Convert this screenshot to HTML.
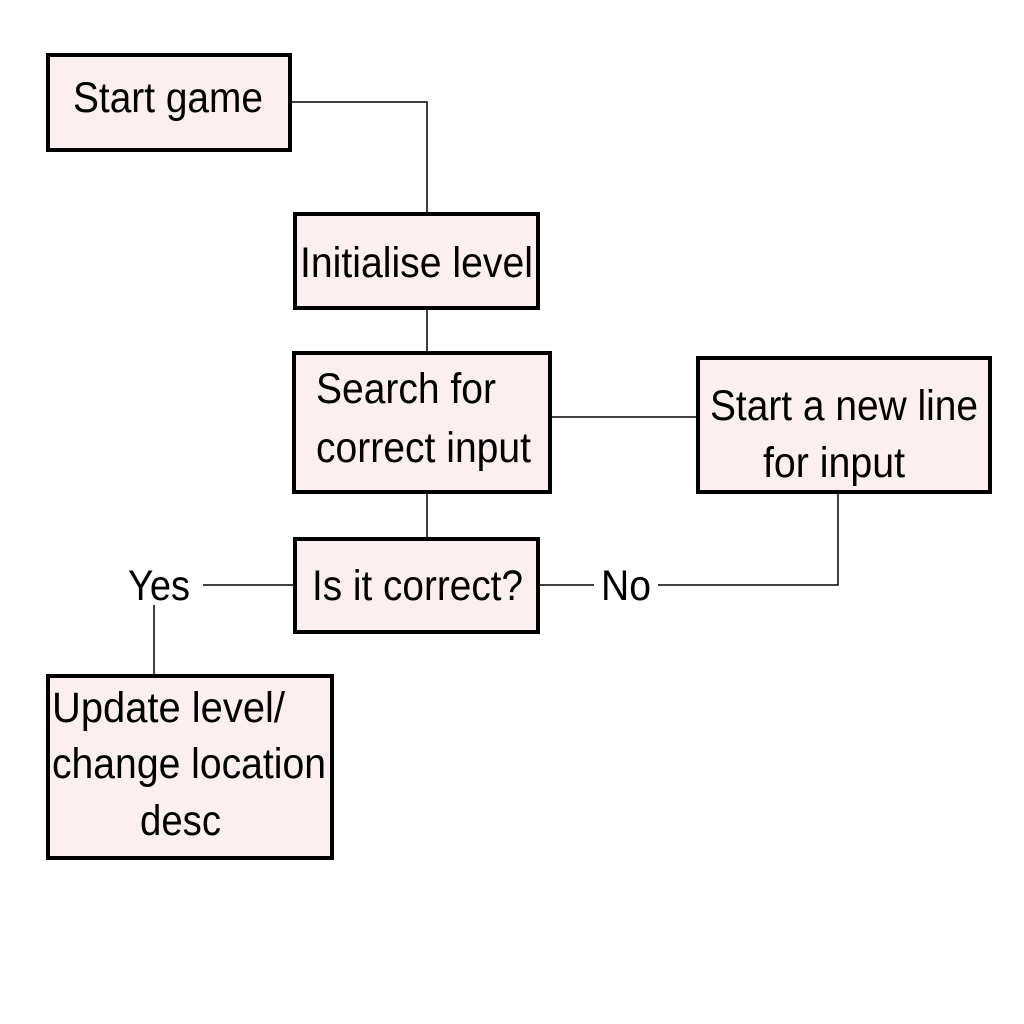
<!DOCTYPE html>
<html><head><meta charset="utf-8"><style>html,body{margin:0;padding:0;background:#fff}svg{display:block}</style></head>
<body>
<svg width="1024" height="1024" viewBox="0 0 1024 1024" xmlns="http://www.w3.org/2000/svg" font-family="Liberation Sans, Arial, sans-serif" font-size="43" fill="#000">
<g stroke="#000" stroke-width="1.5" fill="none">
<polyline points="290,102 427,102 427,213"/>
<line x1="427" y1="308" x2="427" y2="352"/>
<line x1="427" y1="492" x2="427" y2="538"/>
<line x1="550" y1="417" x2="697" y2="417"/>
<line x1="538" y1="585" x2="594" y2="585"/>
<polyline points="658,585 838,585 838,492"/>
<line x1="203" y1="585" x2="294" y2="585"/>
<line x1="154" y1="605" x2="154" y2="675"/>
</g>
<g stroke="#000" stroke-width="4" fill="#fbf0ef">
<rect x="48" y="55" width="242" height="95"/>
<rect x="295" y="214" width="243" height="94"/>
<rect x="294" y="353" width="256" height="139"/>
<rect x="698" y="358" width="292" height="134"/>
<rect x="295" y="539" width="243" height="93"/>
<rect x="48" y="676" width="284" height="182"/>
</g>
<g stroke="none">
<text x="73" y="112" textLength="190" lengthAdjust="spacingAndGlyphs">Start game</text>
<text x="300" y="277" textLength="233" lengthAdjust="spacingAndGlyphs">Initialise level</text>
<text x="316" y="403" textLength="180" lengthAdjust="spacingAndGlyphs">Search for</text>
<text x="316" y="462" textLength="215" lengthAdjust="spacingAndGlyphs">correct input</text>
<text x="710" y="420" textLength="268" lengthAdjust="spacingAndGlyphs">Start a new line</text>
<text x="763" y="477" textLength="142" lengthAdjust="spacingAndGlyphs">for input</text>
<text x="312" y="600" textLength="211" lengthAdjust="spacingAndGlyphs">Is it correct?</text>
<text x="128" y="600" textLength="62" lengthAdjust="spacingAndGlyphs">Yes</text>
<text x="601" y="600" textLength="50" lengthAdjust="spacingAndGlyphs">No</text>
<text x="52" y="722" textLength="233" lengthAdjust="spacingAndGlyphs">Update level/</text>
<text x="52" y="778" textLength="274" lengthAdjust="spacingAndGlyphs">change location</text>
<text x="140" y="835" textLength="81" lengthAdjust="spacingAndGlyphs">desc</text>
</g>
</svg>
</body></html>
